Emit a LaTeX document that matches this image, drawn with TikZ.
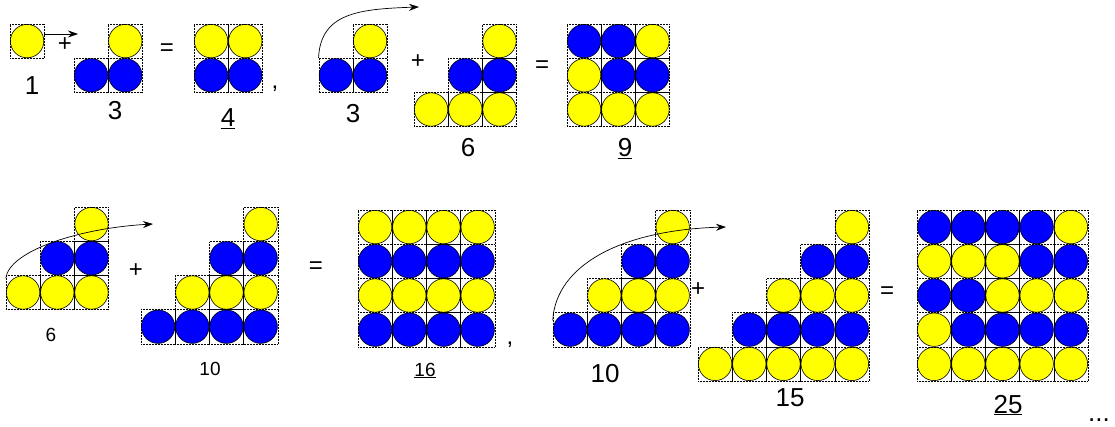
\documentclass[tikz,border=0pt]{standalone}
\usepackage{fontspec}
\setmainfont{Liberation Sans}
\usetikzlibrary{arrows.meta}
\definecolor{ylw}{RGB}{255,255,0}
\definecolor{blu}{RGB}{0,0,255}

% one row of balls: name, left x, top y, colours
\newcommand{\ballrow}[4]{%
  \foreach \col [count=\i] in {#4}
    \node[ball=\col] (#1-\i) at ({#2+(\i-0.5)*34.2},{#3+17.1}) {};}

\begin{document}
\begin{tikzpicture}[x=1pt, y=-1pt, >={Stealth[length=10pt, width=7pt]},
    ball/.style={draw=black, densely dotted, line width=0.5pt,
      minimum size=34.2pt, inner sep=0pt,
      path picture={\filldraw[solid, fill=#1, line width=0.6pt]
        (path picture bounding box.center) circle (16.7pt);}},
    bignum/.style={font=\fontsize{26}{28}\selectfont, anchor=base, inner sep=0pt},
    smallnum/.style={font=\fontsize{19}{21}\selectfont, anchor=base, inner sep=0pt},
    op/.style={font=\fontsize{24}{26}\selectfont},
    arr/.style={->, line width=0.7pt}]
  \path[use as bounding box, fill=white] (0,0) rectangle (1115,427);

  % first line: 1 + 3 = 4, 3 + 6 = 9
  \ballrow{n1a}{10}{24}{ylw}
  \ballrow{n3a}{108.2}{24}{ylw}
  \ballrow{n3b}{74}{58.2}{blu,blu}
  \ballrow{n4a}{194}{24}{ylw,ylw}
  \ballrow{n4b}{194}{58.2}{blu,blu}
  \ballrow{m3a}{353}{24}{ylw}
  \ballrow{m3b}{318.8}{58.2}{blu,blu}
  \ballrow{n6a}{482.4}{24}{ylw}
  \ballrow{n6b}{448.2}{58.2}{blu,blu}
  \ballrow{n6c}{414}{92.4}{ylw,ylw,ylw}
  \ballrow{n9a}{567}{24}{blu,blu,ylw}
  \ballrow{n9b}{567}{58.2}{ylw,blu,blu}
  \ballrow{n9c}{567}{92.4}{ylw,ylw,ylw}

  \node[bignum] (l1) at (32,95) {1};
  \node[bignum] (l3) at (115,120) {3};
  \node[bignum] (l4) at (228,127) {\underline{4}};
  \node[bignum] (m3) at (353,123) {3};
  \node[bignum] (l6) at (468,157) {6};
  \node[bignum] (l9) at (625,157) {\underline{9}};
  \node[op] (p1) at (65,45) {+};
  \node[op] (q1) at (167,50) {=};
  \node[op, anchor=base] (c1) at (275,89) {,};
  \node[op] (p2) at (418,62) {+};
  \node[op] (q2) at (542,67) {=};

  \coordinate (e1) at (78,34);
  \coordinate (e2) at (419,7);
  \draw[arr] (n1a-1.east |- e1) -- (e1);
  \draw[arr] (m3b-1.north west) .. controls +(2,-45) and +(-60,2) .. (e2);

  % second line: 6 + 10 = 16, 10 + 15 = 25
  \ballrow{m6a}{74.4}{207}{ylw}
  \ballrow{m6b}{40.2}{241.2}{blu,blu}
  \ballrow{m6c}{6}{275.4}{ylw,ylw,ylw}
  \ballrow{n10a}{243.6}{207}{ylw}
  \ballrow{n10b}{209.4}{241.2}{blu,blu}
  \ballrow{n10c}{175.2}{275.4}{ylw,ylw,ylw}
  \ballrow{n10d}{141}{309.6}{blu,blu,blu,blu}
  \ballrow{n16a}{358}{210}{ylw,ylw,ylw,ylw}
  \ballrow{n16b}{358}{244.2}{blu,blu,blu,blu}
  \ballrow{n16c}{358}{278.4}{ylw,ylw,ylw,ylw}
  \ballrow{n16d}{358}{312.6}{blu,blu,blu,blu}
  \ballrow{m10a}{655.6}{210}{ylw}
  \ballrow{m10b}{621.4}{244.2}{blu,blu}
  \ballrow{m10c}{587.2}{278.4}{ylw,ylw,ylw}
  \ballrow{m10d}{553}{312.6}{blu,blu,blu,blu}
  \ballrow{n15a}{834.8}{210}{ylw}
  \ballrow{n15b}{800.6}{244.2}{blu,blu}
  \ballrow{n15c}{766.4}{278.4}{ylw,ylw,ylw}
  \ballrow{n15d}{732.2}{312.6}{blu,blu,blu,blu}
  \ballrow{n15e}{698}{346.8}{ylw,ylw,ylw,ylw,ylw}
  \ballrow{n25a}{917}{210}{blu,blu,blu,blu,ylw}
  \ballrow{n25b}{917}{244.2}{ylw,ylw,ylw,blu,blu}
  \ballrow{n25c}{917}{278.4}{blu,blu,ylw,ylw,ylw}
  \ballrow{n25d}{917}{312.6}{ylw,blu,blu,blu,blu}
  \ballrow{n25e}{917}{346.8}{ylw,ylw,ylw,ylw,ylw}

  \node[smallnum] (m6) at (51,341) {6};
  \node[smallnum] (l10) at (210,375) {10};
  \node[smallnum] (l16) at (425,376) {\underline{16}};
  \node[bignum] (m10) at (605,382) {10};
  \node[bignum] (l15) at (790,406) {15};
  \node[bignum] (l25) at (1008,413) {\underline{25}};
  \node[op] (p3) at (136,271) {+};
  \node[op] (q3) at (316,268) {=};
  \node[op, anchor=base] (c2) at (510,344) {,};
  \node[op] (p4) at (698,290) {+};
  \node[op] (q4) at (887,293) {=};
  \node[bignum] (dots) at (1099,421) {...};

  \coordinate (e3) at (153,224);
  \coordinate (e4) at (726,227);
  \draw[arr] ([yshift=-3pt]m6c-1.north west) .. controls +(4,-28) and +(-72,4) .. (e3);
  \draw[arr] ([yshift=-8pt]m10d-1.north west) .. controls +(3,-55) and +(-105,3) .. (e4);
\end{tikzpicture}
\end{document}
